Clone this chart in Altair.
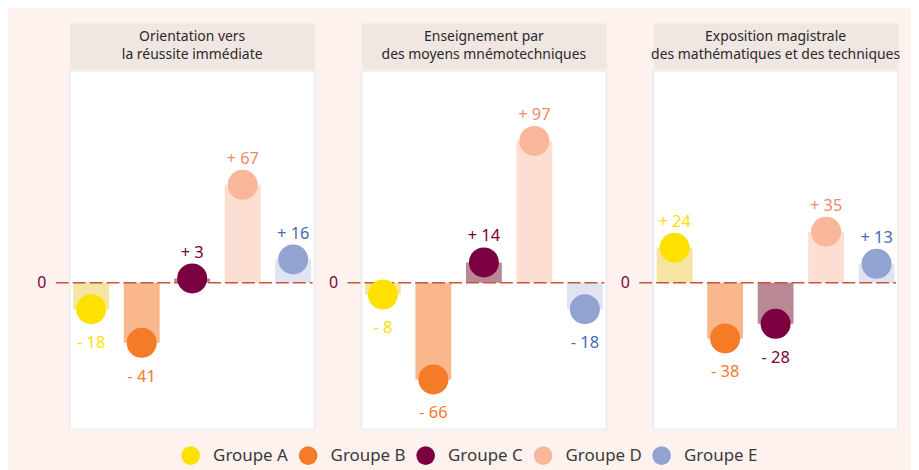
import altair as alt
import pandas as pd

# ---- data ----
panel_titles = [
    "Orientation vers\nla réussite immédiate",
    "Enseignement par\ndes moyens mnémotechniques",
    "Exposition magistrale\ndes mathématiques et des techniques",
]
groups = ["Groupe A", "Groupe B", "Groupe C", "Groupe D", "Groupe E"]
values_orientation = [-18, -41, 3, 67, 16]
values_mnemotechniques = [-8, -66, 14, 97, -18]
values_exposition = [24, -38, -28, 35, 13]

# ---- palette ----
circle_colors = ["#FFE100", "#F47B27", "#7A0040", "#F8B69B", "#93A3D1"]
bar_colors = ["#F6E4A2", "#FAB78C", "#BA8895", "#FCDFD2", "#E0E4F2"]
label_colors = ["#FFE100", "#F47B27", "#7A0040", "#F08B6B", "#4A6AB5"]

FONT = "Noto Sans"
W = 246
H_HEAD = 46
H_PLOT = 360

y_scale = alt.Scale(domain=[-100, 145], nice=False, zero=False)
y_axis = alt.Axis(values=[0], title=None, domain=False, ticks=False, grid=False,
                  labelFontSize=16, labelColor="#7A0040", labelFont=FONT, labelPadding=24)
x_scale = alt.Scale(domain=groups, paddingInner=0.29, paddingOuter=0.07)
legend = alt.Legend(orient="none", legendX=112, legendY=425, direction="horizontal",
                    title=None, symbolType="circle", symbolSize=350, symbolStrokeWidth=0,
                    labelFontSize=17, labelFont=FONT, labelColor="#3A3A3A",
                    labelOffset=13, columnPadding=10, columns=5)


def header(title):
    return alt.Chart(pd.DataFrame({"titre": [title]})).mark_text(
        lineBreak="\n", fontSize=14, fontWeight="normal", font=FONT, color="#2A2A2A",
        lineHeight=18, baseline="middle", dy=-9
    ).encode(text="titre:N").properties(
        width=W, height=H_HEAD,
        view=alt.ViewBackground(fill="#F0E6E2", stroke="transparent"),
    )


def plot(vals):
    df = pd.DataFrame({
        "groupe": groups,
        "valeur": vals,
        "barcol": bar_colors,
        "labcol": label_colors,
    })
    base = alt.Chart(df).transform_calculate(
        label="(datum.valeur > 0 ? '+ ' : '- ') + abs(datum.valeur)"
    ).encode(
        x=alt.X("groupe:N", scale=x_scale, axis=None),
        y=alt.Y("valeur:Q", scale=y_scale, axis=y_axis),
    )
    bars = base.mark_bar().encode(
        y2=alt.datum(0),
        color=alt.Color("barcol:N", scale=None),
    )
    zero = alt.Chart(pd.DataFrame({"zero": [0]})).mark_rule(
        color="#C4573A", strokeWidth=1.5, strokeDash=[13, 4]
    ).encode(
        y=alt.Y("zero:Q", scale=y_scale, axis=y_axis),
        x=alt.value(-14), x2=alt.value(W - 2),
    )
    circles = base.mark_circle(size=908, opacity=1).encode(
        color=alt.Color("groupe:N", scale=alt.Scale(domain=groups, range=circle_colors),
                        legend=legend),
    )
    lab_pos = base.transform_filter("datum.valeur > 0").mark_text(
        dy=-26, fontSize=16.5, font=FONT
    ).encode(text="label:N", color=alt.Color("labcol:N", scale=None))
    lab_neg = base.transform_filter("datum.valeur < 0").mark_text(
        dy=34, fontSize=16.5, font=FONT
    ).encode(text="label:N", color=alt.Color("labcol:N", scale=None))
    return alt.layer(bars, zero, circles, lab_pos, lab_neg).properties(
        width=W, height=H_PLOT,
        view=alt.ViewBackground(fill="white", stroke="#ECEEF1", strokeWidth=2),
    )


values = [values_orientation, values_mnemotechniques, values_exposition]
charts = [header(t) for t in panel_titles] + [plot(v) for v in values]

chart = alt.concat(*charts, columns=3, spacing=alt.RowColnumber(row=2, column=47),
                   bounds="flush").properties(
    background="#FDF2ED",
    padding={"left": 27, "top": 13, "right": 10, "bottom": 4},
).configure_view(stroke="transparent")

chart.save("out.html", embed_options={"renderer": "svg", "actions": False})
